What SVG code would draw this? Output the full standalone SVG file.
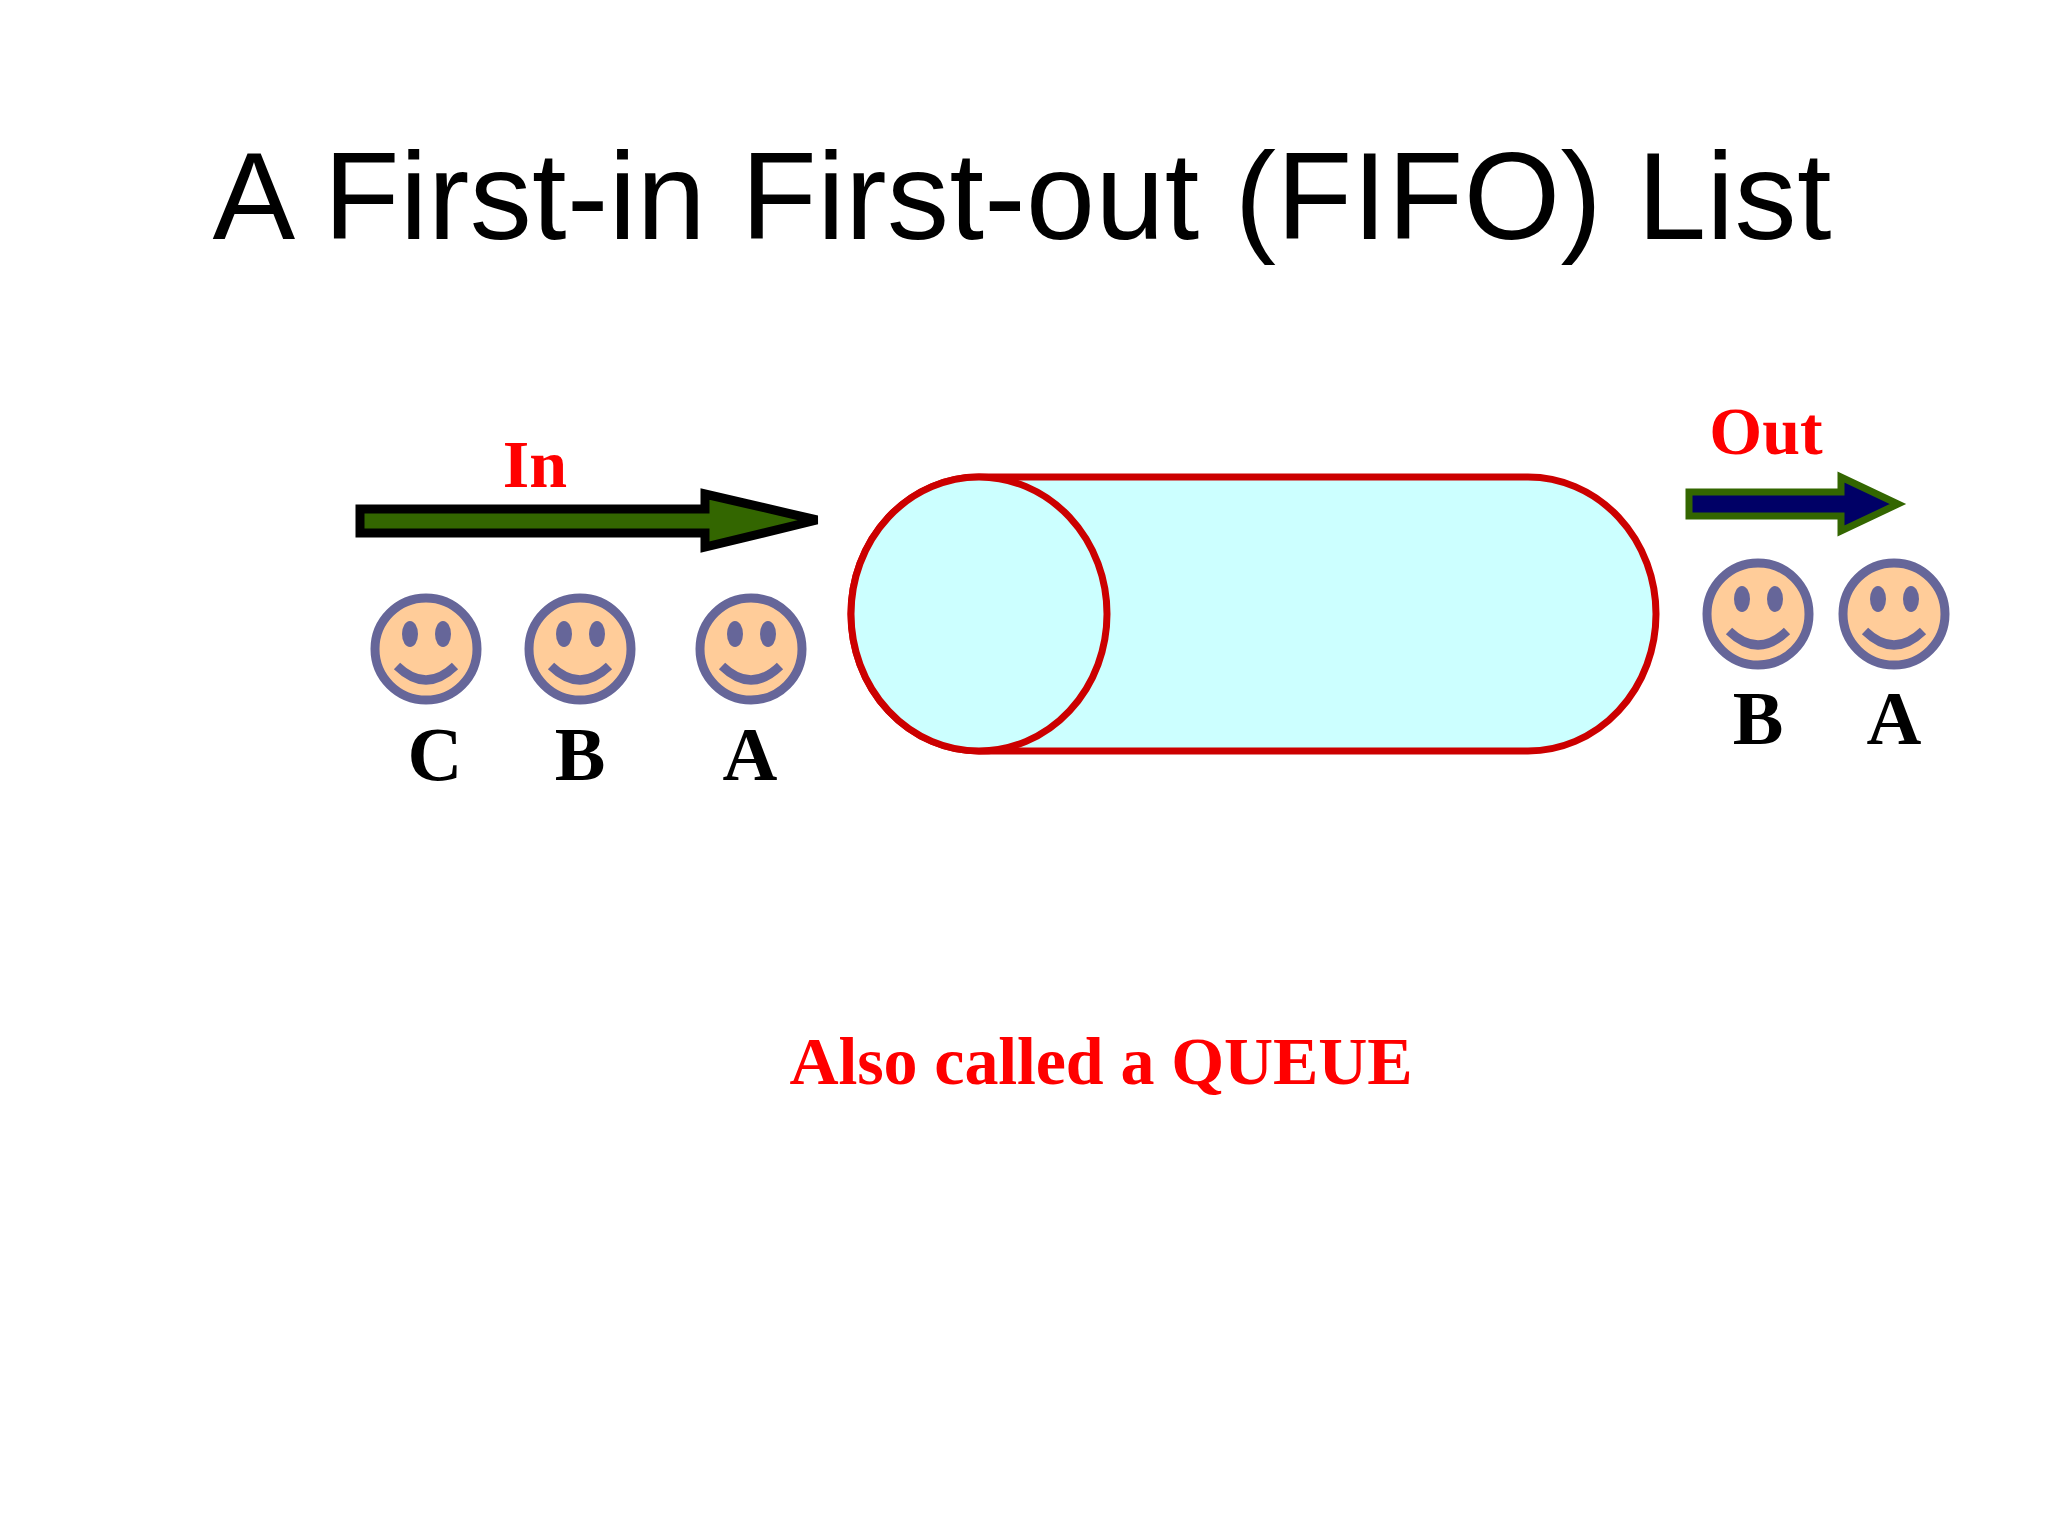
<svg xmlns="http://www.w3.org/2000/svg" width="2048" height="1536" viewBox="0 0 2048 1536">
<style>
.face{fill:#FFCC99;stroke:#666699;stroke-width:9}
.eye{fill:#666699}
.smile{fill:none;stroke:#666699;stroke-width:9}
.lbl{font-family:"Liberation Serif",serif;font-weight:bold;font-size:76px;fill:#000;text-anchor:middle}
.red{font-family:"Liberation Serif",serif;font-weight:bold;fill:#FF0000;text-anchor:middle}
</style>
<defs>
<g id="smiley">
<ellipse class="face" cx="0" cy="0" rx="51" ry="51"/>
<ellipse class="eye" cx="-16" cy="-15" rx="8" ry="13"/>
<ellipse class="eye" cx="17" cy="-15" rx="8" ry="13"/>
<path class="smile" d="M-29,17 Q0,45 29,17"/>
</g>
</defs>
<rect width="2048" height="1536" fill="#fff"/>
<text x="1022" y="239" font-family="Liberation Sans,Arial,sans-serif" font-size="124" text-anchor="middle" textLength="1619" fill="#000">A First-in First-out (FIFO) List</text>
<g id="in-arrow">
<polygon points="360,509 705,509 705,494 817,520 705,547 705,533 360,533" fill="#336600" stroke="#000" stroke-width="9"/>
<text class="red" x="535" y="487" font-size="68">In</text>
</g>
<g id="queue">
<path d="M979,477 L1528,477 A128,137 0 0 1 1528,751 L979,751 A128,137 0 0 1 979,477 Z" fill="#CCFFFF" stroke="#CC0000" stroke-width="7"/>
<ellipse cx="979" cy="614" rx="128" ry="137" fill="#CCFFFF" stroke="#CC0000" stroke-width="7"/>
</g>
<g id="out-arrow">
<polygon points="1689,492 1841,492 1841,477 1898,504 1841,531 1841,516 1689,516" fill="#000066" stroke="#336600" stroke-width="7"/>
<text class="red" x="1766" y="454" font-size="68">Out</text>
</g>
<g id="C"><use href="#smiley" x="426" y="649"/><text class="lbl" x="435" y="780">C</text></g>
<g id="B"><use href="#smiley" x="580" y="649"/><text class="lbl" x="580" y="780">B</text></g>
<g id="A"><use href="#smiley" x="751" y="649"/><text class="lbl" x="750" y="780">A</text></g>
<g id="B2"><use href="#smiley" x="1758" y="614"/><text class="lbl" x="1758" y="744">B</text></g>
<g id="A2"><use href="#smiley" x="1894" y="614"/><text class="lbl" x="1894" y="744">A</text></g>
<text class="red" x="1101" y="1084" font-size="68" textLength="623">Also called a QUEUE</text>
</svg>
